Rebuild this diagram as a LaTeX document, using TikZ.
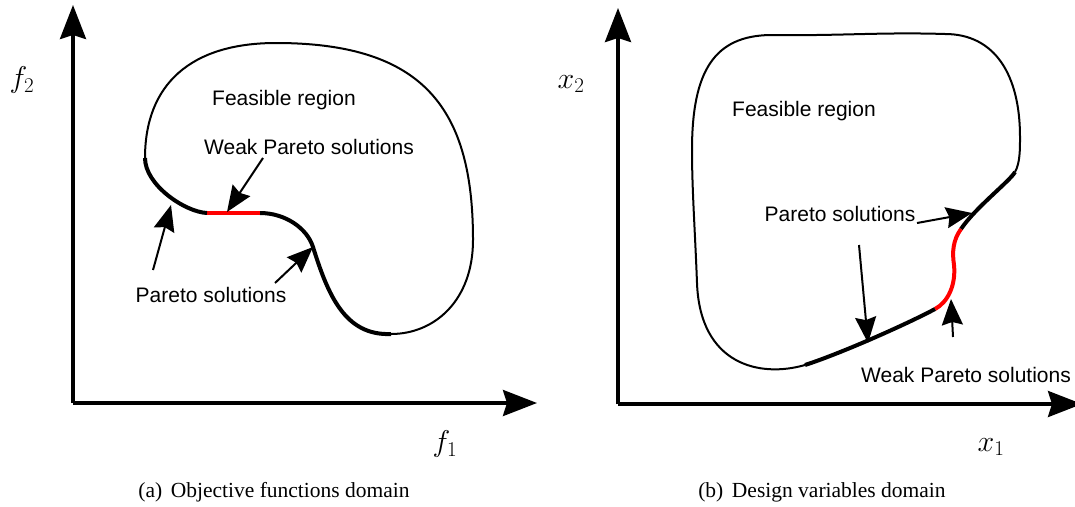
\RequirePackage{fix-cm}
\documentclass[tikz,border=0pt]{standalone}
\usepackage[no-math]{fontspec}
\setmainfont{Liberation Serif}
\newfontfamily\labelfont{Liberation Sans}
\usetikzlibrary{arrows.meta}
\begin{document}
\begin{tikzpicture}[x=1pt,y=-1pt,
  axisline/.style={line width=3.5pt,-{Stealth[length=34pt,width=26pt,inset=4pt]}},
  pointer/.style={line width=2pt,-{Stealth[length=26pt,width=21pt,inset=3pt]}},
  boundary/.style={line width=2pt},
  pareto/.style={line width=4pt},
  weakpareto/.style={line width=4pt,red},
  lbl/.style={inner sep=0pt,font=\labelfont\fontsize{21}{25}\selectfont},
  varlbl/.style={inner sep=0pt,font=\fontsize{30}{36}\selectfont},
  captext/.style={inner sep=0pt,font=\fontsize{21.5}{25}\selectfont}]
\useasboundingbox (0,0) rectangle (1075,506);

% ---------- (a) objective functions domain ----------
\coordinate (oa) at (73,403);
\coordinate (ya) at (73,5);
\coordinate (xa) at (537,403);
\draw[axisline] (oa) -- (ya);
\draw[axisline] (oa) -- (xa);
\node[varlbl] (f2) at (22,80) {$f_2$};
\node[varlbl] (f1) at (445,444) {$f_1$};

% boundary of the feasible set
\draw[boundary] (145,158) .. controls (145,85) and (190,43) .. (276,43)
  .. controls (425,43) and (473,110) .. (473,240)
  .. controls (473,300) and (435,334) .. (391,334);
\draw[pareto] (391,334) .. controls (345,336) and (328,295) .. (313,247)
  .. controls (307,228) and (285,213) .. (260,213);
\draw[weakpareto] (260,213) -- (207,213);
\draw[pareto] (207,213) .. controls (185,212) and (145,185) .. (145,158);

\node[lbl] (feasA) at (284,100) {Feasible region};
\node[lbl] (weakA) at (309,147) {Weak Pareto solutions};
\node[lbl] (parA) at (211,295) {Pareto solutions};

\coordinate (wa0) at (263,158);  \coordinate (wa1) at (227,212);
\coordinate (pa0) at (153,270);  \coordinate (pa1) at (171,205);
\coordinate (pb0) at (275,283);  \coordinate (pb1) at (313,247);
\draw[pointer] (wa0) -- (wa1);
\draw[pointer] (pa0) -- (pa1);
\draw[pointer] (pb0) -- (pb1);

\node[captext] (capA) at (274,492) {(a)\hspace{0.4em}Objective functions domain};

% ---------- (b) design variables domain ----------
\coordinate (ob) at (618,404);
\coordinate (yb) at (618,8);
\coordinate (xb) at (1082,404);
\draw[axisline] (ob) -- (yb);
\draw[axisline] (ob) -- (xb);
\node[varlbl] (x2) at (571,84) {$x_2$};
\node[varlbl] (x1) at (991,447) {$x_1$};

% boundary of the feasible set
\draw[boundary] (692,150) .. controls (692,70) and (715,36) .. (770,35)
  .. controls (840,36) and (880,32) .. (945,34)
  .. controls (995,34) and (1020,75) .. (1020,137)
  .. controls (1020,150) and (1020,163) .. (1015,172);
\draw[pareto] (1015,172) .. controls (1010,181) and (975,208) .. (961,229);
\draw[weakpareto] (961,229) .. controls (953,240) and (952,252) .. (954,265)
  .. controls (956,285) and (948,302) .. (935,309);
\draw[pareto] (935,309) .. controls (913,321) and (845,352) .. (805,365);
\draw[boundary] (805,365) .. controls (760,378) and (700,365) .. (697,283)
  .. controls (695,230) and (692,190) .. (692,150);

\node[lbl] (feasB) at (804,111) {Feasible region};
\node[lbl] (parB) at (840,214) {Pareto solutions};
\node[lbl] (weakB) at (966,375) {Weak Pareto solutions};

\coordinate (pc0) at (917,223);  \coordinate (pc1) at (972,213);
\coordinate (pd0) at (859,245);  \coordinate (pd1) at (868,343);
\coordinate (wb0) at (953,337);  \coordinate (wb1) at (951,299);
\draw[pointer] (pc0) -- (pc1);
\draw[pointer] (pd0) -- (pd1);
\draw[pointer] (wb0) -- (wb1);

\node[captext] (capB) at (822,492) {(b)\hspace{0.4em}Design variables domain};
\end{tikzpicture}
\end{document}
